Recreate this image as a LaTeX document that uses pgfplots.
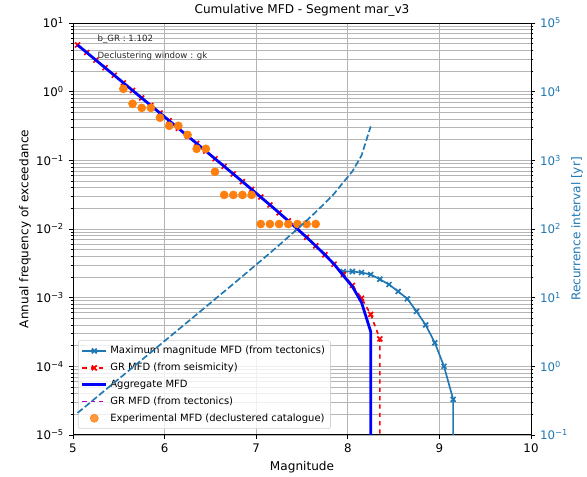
\documentclass[border=0pt]{standalone}
\usepackage{fontspec}
\setmainfont{DejaVu Sans}
\usepackage{pgfplots}
\pgfplotsset{compat=1.18}
\definecolor{cZero}{HTML}{1F77B4}
\definecolor{cOne}{HTML}{FF7F0E}
\definecolor{cMag}{HTML}{BF00BF}
\begin{document}
\begin{tikzpicture}
\begin{axis}[
  scale only axis, width=329.8pt, height=296.6pt,
  clip marker paths=true,
  xmin=5, xmax=10, ymode=log, ymin=1e-5, ymax=10,
  xtick={5,6,7,8,9,10}, xticklabels={5,6,7,8,9,10},
  ytick={1e-5,1e-4,1e-3,1e-2,1e-1,1,10},
  yticklabels={10\textsuperscript{−5},10\textsuperscript{−4},10\textsuperscript{−3},10\textsuperscript{−2},10\textsuperscript{−1},10\textsuperscript{0},10\textsuperscript{1}},
  minor ytick={2e-5,3e-5,4e-5,5e-5,6e-5,7e-5,8e-5,9e-5,2e-4,3e-4,4e-4,5e-4,6e-4,7e-4,8e-4,9e-4,2e-3,3e-3,4e-3,5e-3,6e-3,7e-3,8e-3,9e-3,2e-2,3e-2,4e-2,5e-2,6e-2,7e-2,8e-2,9e-2,0.2,0.3,0.4,0.5,0.6,0.7,0.8,0.9,2,3,4,5,6,7,8,9},
  tick pos=left, tick align=outside,
  major tick length=3pt, minor tick length=1.7pt,
  tick style={black, line width=0.5pt},
  xmajorgrids, ymajorgrids, yminorgrids,
  major grid style={gray!58, line width=0.5pt},
  minor grid style={gray!58, line width=0.5pt},
  axis line style={black, line width=0.6pt},
  tick label style={font=\fontsize{8.5}{10}\selectfont},
  legend cell align=left,
  legend style={at={(axis description cs:0,0)}, anchor=south west, xshift=3.6pt, yshift=4.3pt,
    draw=gray!35, rounded corners=1.5pt, fill=white, fill opacity=0.8, text opacity=1,
    font=\fontsize{7.2}{8.6}\selectfont, row sep=1.2pt, inner sep=2pt},
]
\addlegendimage{cZero, line width=1.2pt, mark=x, mark size=2.5pt}
\addlegendentry{Maximum magnitude MFD (from tectonics)}
\addlegendimage{red, dashed, line width=1.2pt, mark=x, mark size=2.5pt, mark options={solid}}
\addlegendentry{GR MFD (from seismicity)}
\addlegendimage{blue, line width=2pt}
\addlegendentry{Aggregate MFD}
\addlegendimage{cMag, dashed, line width=0.6pt}
\addlegendentry{GR MFD (from tectonics)}
\addlegendimage{only marks, mark=*, cOne, mark size=2.9pt}
\addlegendentry{Experimental MFD (declustered catalogue)}

% Maximum magnitude MFD
\addplot[forget plot, cZero, line width=1.2pt, mark=x, mark size=2.5pt] coordinates {
(7.95,2.40e-3)(8.05,2.40e-3)(8.15,2.32e-3)(8.25,2.17e-3)(8.35,1.85e-3)(8.45,1.55e-3)
(8.55,1.23e-3)(8.65,9.6e-4)(8.75,6.3e-4)(8.85,4.0e-4)(8.95,2.2e-4)(9.05,1.0e-4)(9.15,3.3e-5)(9.15,1e-8)};

% GR MFD from seismicity
\addplot[forget plot, red, dashed, line width=1.2pt, mark=x, mark size=2.5pt, mark options={solid}] coordinates {
(5.05,4.784)(5.15,3.712)(5.25,2.880)(5.35,2.234)(5.45,1.733)(5.55,1.345)(5.65,1.043)(5.75,0.809)
(5.85,0.6278)(5.95,0.4868)(6.05,0.3775)(6.15,0.2927)(6.25,0.2269)(6.35,0.1759)(6.45,0.1363)(6.55,0.1055)
(6.65,0.0817)(6.75,0.0632)(6.85,0.0489)(6.95,0.0377)(7.05,0.0291)(7.15,0.0224)(7.25,0.0172)(7.35,0.0131)
(7.45,0.0100)(7.55,0.00756)(7.65,0.00567)(7.75,0.00421)(7.85,0.00307)(7.95,0.00219)(8.05,0.00151)
(8.15,0.00098)(8.25,0.00057)(8.35,0.00025)(8.35,1e-8)};

% GR MFD from tectonics (hidden under aggregate)
\addplot[forget plot, cMag, dashed, line width=0.6pt] coordinates {
(5.05,4.784)(5.55,1.345)(6.05,0.3775)(6.55,0.1055)(7.05,0.0291)(7.55,0.00756)(7.85,0.00307)(7.95,0.0021)(8.05,0.00145)(8.15,0.00085)(8.25,0.00032)};

% Aggregate MFD
\addplot[forget plot, blue, line width=2pt] coordinates {
(5.05,4.784)(5.15,3.712)(5.25,2.880)(5.35,2.234)(5.45,1.733)(5.55,1.345)(5.65,1.043)(5.75,0.809)
(5.85,0.6278)(5.95,0.4868)(6.05,0.3775)(6.15,0.2927)(6.25,0.2269)(6.35,0.1759)(6.45,0.1363)(6.55,0.1055)
(6.65,0.0817)(6.75,0.0632)(6.85,0.0489)(6.95,0.0377)(7.05,0.0291)(7.15,0.0224)(7.25,0.0172)(7.35,0.0131)
(7.45,0.0100)(7.55,0.00756)(7.65,0.00567)(7.75,0.00421)(7.85,0.00307)(7.95,0.0021)(8.05,0.00145)
(8.15,0.00085)(8.25,0.00032)(8.25,1e-8)};

% Experimental MFD
\addplot[forget plot, only marks, mark=*, cOne, mark size=2.9pt] coordinates {
(5.55,1.10)(5.65,0.667)(5.75,0.58)(5.85,0.58)(5.95,0.417)(6.05,0.318)(6.15,0.318)(6.25,0.235)
(6.35,0.147)(6.45,0.147)(6.55,0.068)(6.65,0.0313)(6.75,0.0313)(6.85,0.0313)(6.95,0.0313)
(7.05,0.0118)(7.15,0.0118)(7.25,0.0118)(7.35,0.0118)(7.45,0.0118)(7.55,0.0118)(7.65,0.0118)};

\node[anchor=west, font=\fontsize{6.2}{7}\selectfont, text=black!85] at (axis cs:5.215,5.71) {b\_GR : 1.102};
\node[anchor=west, font=\fontsize{6.2}{7}\selectfont, text=black!85] at (axis cs:5.215,3.34) {Declustering window : gk};

\coordinate (a) at (rel axis cs:0,0);
\coordinate (b) at (rel axis cs:1,1);
\end{axis}
\begin{axis}[
  scale only axis, width=329.8pt, height=296.6pt,
  xmin=5, xmax=10, ymode=log, ymin=0.1, ymax=1e5,
  axis x line=none, axis y line*=right,
  ytick={0.1,1,10,100,1000,1e4,1e5},
  yticklabels={10\textsuperscript{−1},10\textsuperscript{0},10\textsuperscript{1},10\textsuperscript{2},10\textsuperscript{3},10\textsuperscript{4},10\textsuperscript{5}},
  minor ytick={0.2,0.3,0.4,0.5,0.6,0.7,0.8,0.9,2,3,4,5,6,7,8,9,20,30,40,50,60,70,80,90,200,300,400,500,600,700,800,900,2000,3000,4000,5000,6000,7000,8000,9000,2e4,3e4,4e4,5e4,6e4,7e4,8e4,9e4},
  tick align=outside,
  major tick length=3pt, minor tick length=1.7pt,
  tick style={black, line width=0.5pt},
  axis line style={black, line width=0.6pt},
  yticklabel style={font=\fontsize{8.5}{10}\selectfont, text=cZero},
]
\addplot[cZero, dashed, line width=1.2pt, dash pattern=on 4.7pt off 2pt] coordinates {
(5.05,0.209)(5.15,0.269)(5.25,0.347)(5.35,0.448)(5.45,0.577)(5.55,0.743)(5.65,0.959)(5.75,1.236)
(5.85,1.593)(5.95,2.054)(6.05,2.649)(6.15,3.416)(6.25,4.407)(6.35,5.685)(6.45,7.337)(6.55,9.479)
(6.65,12.24)(6.75,15.82)(6.85,20.45)(6.95,26.53)(7.05,34.36)(7.15,44.64)(7.25,58.14)(7.35,76.34)
(7.45,100.0)(7.55,132.3)(7.65,176.4)(7.75,237.5)(7.85,325.7)(7.95,476.2)(8.05,689.7)(8.15,1176)(8.25,3125)};
\end{axis}
\node[font=\fontsize{8.7}{10}\selectfont, anchor=center] at ([shift={(-164.9pt,9.2pt)}]b) {Cumulative MFD - Segment mar\_v3};
\node[font=\fontsize{8.7}{10}\selectfont, anchor=center] at ([shift={(164.9pt,-23.2pt)}]a) {Magnitude};
\node[font=\fontsize{8.7}{10}\selectfont, anchor=center, rotate=90] at ([shift={(-34.6pt,148.3pt)}]a) {Annual frequency of exceedance};
\node[font=\fontsize{8.7}{10}\selectfont, anchor=center, rotate=90, text=cZero] at ([shift={(33.1pt,-148.3pt)}]b) {Recurrence interval [yr]};
\pgfresetboundingbox
\path[use as bounding box] ([shift={(-52.56pt,-30.24pt)}]a) rectangle ([shift={(40.32pt,16.56pt)}]b);
\end{tikzpicture}
\end{document}
